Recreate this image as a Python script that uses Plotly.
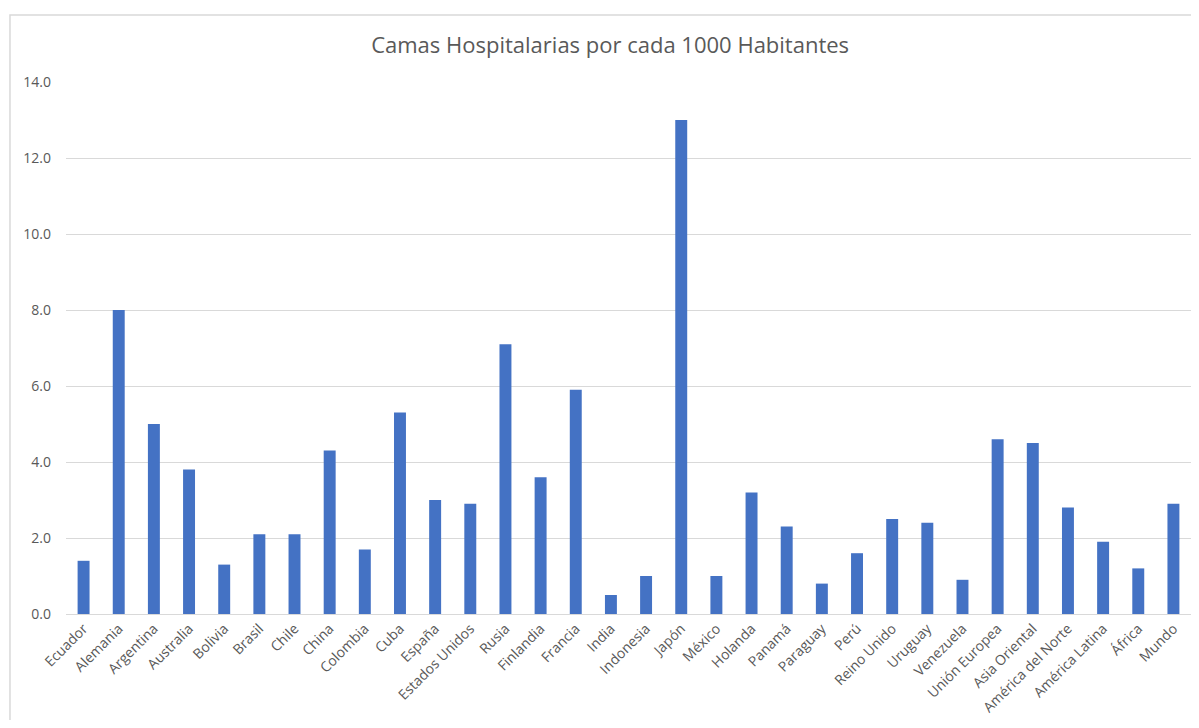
import plotly.graph_objects as go

paises = ["Ecuador", "Alemania", "Argentina", "Australia", "Bolivia", "Brasil", "Chile",
          "China", "Colombia", "Cuba", "España", "Estados Unidos", "Rusia", "Finlandia",
          "Francia", "India", "Indonesia", "Japón", "México", "Holanda", "Panamá",
          "Paraguay", "Perú", "Reino Unido", "Uruguay", "Venezuela", "Unión Europea",
          "Asia Oriental", "América del Norte", "América Latina", "África", "Mundo"]
camas = [1.4, 8.0, 5.0, 3.8, 1.3, 2.1, 2.1, 4.3, 1.7, 5.3, 3.0, 2.9, 7.1, 3.6, 5.9, 0.5,
         1.0, 13.0, 1.0, 3.2, 2.3, 0.8, 1.6, 2.5, 2.4, 0.9, 4.6, 4.5, 2.8, 1.9, 1.2, 2.9]
y_ticks = [0, 2, 4, 6, 8, 10, 12, 14]

fig = go.Figure()
fig.add_trace(go.Bar(x=paises, y=camas, marker=dict(color="#4472C4", line=dict(width=0))))

fig.update_layout(
    width=1183, height=712,
    margin=dict(l=58, r=0, t=74, b=106),
    paper_bgcolor="white", plot_bgcolor="white",
    font=dict(family="Open Sans, sans-serif", color="#595959", size=12),
    title=dict(text="Camas Hospitalarias por cada 1000 Habitantes", x=0.509, xanchor="center",
               y=0.948, yanchor="middle", font=dict(size=22, color="#595959")),
    bargap=0.66,
    showlegend=False,
)
fig.update_xaxes(tickangle=-45, showgrid=False, showline=True, linecolor="#d9d9d9",
                 linewidth=1, ticks="", tickfont=dict(size=14), automargin=False)
fig.update_yaxes(range=[0, 14], tickvals=y_ticks, tickformat=".1f", showgrid=True,
                 gridcolor="#d9d9d9", gridwidth=1, zeroline=False, ticks="",
                 ticklabelstandoff=14, tickfont=dict(size=14), automargin=False)

# outer chart border
fig.add_shape(type="rect", xref="paper", yref="paper", x0=-0.0498, x1=1.03, y0=-0.4, y1=1.126,
              line=dict(color="#d9d9d9", width=1.5), layer="below")

fig.write_html("out.html")
